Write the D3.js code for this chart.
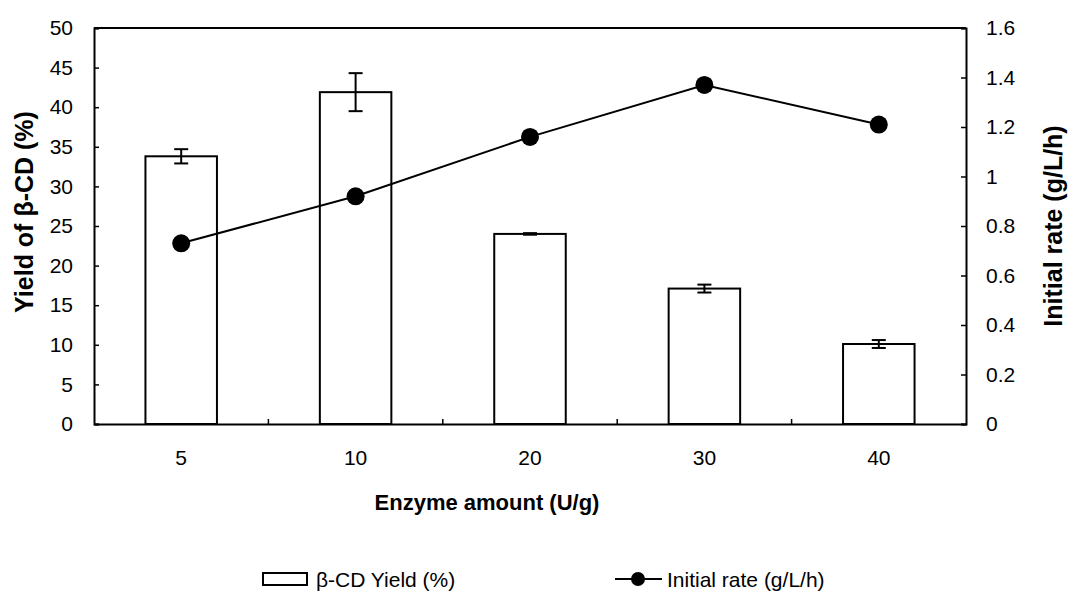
<!DOCTYPE html>
<html>
<head>
<meta charset="utf-8">
<script src="https://cdn.jsdelivr.net/npm/d3@7"></script>
<style>
  body { margin: 0; background: #fff; }
  svg text { font-family: "Liberation Sans", Arial, sans-serif; fill: #000; }
</style>
</head>
<body>
<svg id="chart" width="1069" height="596"></svg>
<script>
// enzyme amount categories (U/g)
var categories = ["5", "10", "20", "30", "40"];
// beta-CD yield (%), bars with error
var yieldValues = [33.8, 41.9, 24.0, 17.1, 10.1];
var yieldErrors = [0.9, 2.4, 0.1, 0.5, 0.5];
// initial rate (g/L/h), line
var rateValues = [0.73, 0.92, 1.16, 1.37, 1.21];

var leftTicks = [0, 5, 10, 15, 20, 25, 30, 35, 40, 45, 50];
var rightTicks = [0, 0.2, 0.4, 0.6, 0.8, 1, 1.2, 1.4, 1.6];

var svg = d3.select("#chart");
var m = {left: 94, right: 103, top: 28, bottom: 172};
var W = 1069 - m.left - m.right,
    H = 596 - m.top - m.bottom;
var fs = 21;

var x = d3.scaleBand().domain(categories).range([0, W]).paddingInner(0).paddingOuter(0);
var yL = d3.scaleLinear().domain([0, 50]).range([H, 0]);
var yR = d3.scaleLinear().domain([0, 1.6]).range([H, 0]);

var g = svg.append("g").attr("transform", "translate(" + m.left + "," + m.top + ")");

// bars
var barW = x.bandwidth() * 0.41;
g.selectAll("rect.bar").data(categories).enter().append("rect")
  .attr("class", "bar")
  .attr("x", function(d) { return x(d) + (x.bandwidth() - barW) / 2; })
  .attr("y", function(d, i) { return yL(yieldValues[i]); })
  .attr("width", barW)
  .attr("height", function(d, i) { return H - yL(yieldValues[i]); })
  .attr("fill", "#fff")
  .attr("stroke", "#000")
  .attr("stroke-width", 2);

// error bars
var eb = g.selectAll("g.err").data(categories).enter().append("g").attr("class", "err");
eb.append("line")
  .attr("x1", function(d) { return x(d) + x.bandwidth() / 2; })
  .attr("x2", function(d) { return x(d) + x.bandwidth() / 2; })
  .attr("y1", function(d, i) { return yL(yieldValues[i] + yieldErrors[i]); })
  .attr("y2", function(d, i) { return yL(yieldValues[i] - yieldErrors[i]); })
  .attr("stroke", "#000").attr("stroke-width", 2);
[1, -1].forEach(function(s) {
  eb.append("line")
    .attr("x1", function(d) { return x(d) + x.bandwidth() / 2 - 7; })
    .attr("x2", function(d) { return x(d) + x.bandwidth() / 2 + 7; })
    .attr("y1", function(d, i) { return yL(yieldValues[i] + s * yieldErrors[i]); })
    .attr("y2", function(d, i) { return yL(yieldValues[i] + s * yieldErrors[i]); })
    .attr("stroke", "#000").attr("stroke-width", 2);
});

// frame top
g.append("line").attr("x1", 0).attr("x2", W).attr("y1", 0).attr("y2", 0)
  .attr("stroke", "#000").attr("stroke-width", 2);

// axes
var axL = g.append("g").call(d3.axisLeft(yL).tickValues(leftTicks).tickSize(-5).tickPadding(21).tickFormat(d3.format("d")));
var axR = g.append("g").attr("transform", "translate(" + W + ",0)")
  .call(d3.axisRight(yR).tickValues(rightTicks).tickSize(-5).tickPadding(20).tickFormat(function(d) { return d3.format("")(d); }));
var axB = g.append("g").attr("transform", "translate(0," + H + ")")
  .call(d3.axisBottom(x).tickSize(0).tickPadding(26));
// category boundary ticks
g.selectAll("line.bt").data(categories.slice(1)).enter().append("line")
  .attr("class", "bt")
  .attr("x1", function(d) { return x(d); }).attr("x2", function(d) { return x(d); })
  .attr("y1", H).attr("y2", H - 5)
  .attr("stroke", "#000").attr("stroke-width", 1.5);

[axL, axR, axB].forEach(function(a) {
  a.select(".domain").attr("stroke", "#000").attr("stroke-width", 2);
  a.selectAll(".tick line").attr("stroke", "#000").attr("stroke-width", 1.5);
  a.selectAll(".tick text").attr("font-size", fs).attr("font-family", "Liberation Sans, Arial, sans-serif").attr("fill", "#000");
});
axR.selectAll(".tick text").attr("text-anchor", "start");

// line series
var line = d3.line()
  .x(function(d, i) { return x(categories[i]) + x.bandwidth() / 2; })
  .y(function(d) { return yR(d); });
g.append("path").datum(rateValues)
  .attr("d", line).attr("fill", "none").attr("stroke", "#000").attr("stroke-width", 2);
g.selectAll("circle.pt").data(rateValues).enter().append("circle")
  .attr("class", "pt")
  .attr("cx", function(d, i) { return x(categories[i]) + x.bandwidth() / 2; })
  .attr("cy", function(d) { return yR(d); })
  .attr("r", 9).attr("fill", "#000");

// axis titles
svg.append("text")
  .attr("transform", "translate(24,212) rotate(-90)")
  .attr("text-anchor", "middle").attr("dy", "0.35em")
  .attr("font-size", 25).attr("font-weight", "bold")
  .text("Yield of β-CD (%)");
svg.append("text")
  .attr("transform", "translate(1053,226) rotate(-90)")
  .attr("text-anchor", "middle").attr("dy", "0.35em")
  .attr("font-size", 25).attr("font-weight", "bold")
  .text("Initial rate (g/L/h)");
svg.append("text")
  .attr("x", 487).attr("y", 510)
  .attr("text-anchor", "middle")
  .attr("font-size", 22).attr("font-weight", "bold")
  .text("Enzyme amount (U/g)");

// legend
var lg = svg.append("g");
lg.append("rect").attr("x", 263).attr("y", 573).attr("width", 44).attr("height", 12)
  .attr("fill", "#fff").attr("stroke", "#000").attr("stroke-width", 2);
lg.append("text").attr("x", 316).attr("y", 587).attr("font-size", fs).text("β-CD Yield (%)");
lg.append("line").attr("x1", 615).attr("x2", 662).attr("y1", 579).attr("y2", 579)
  .attr("stroke", "#000").attr("stroke-width", 2);
lg.append("circle").attr("cx", 638).attr("cy", 579).attr("r", 7).attr("fill", "#000");
lg.append("text").attr("x", 667).attr("y", 587).attr("font-size", fs).text("Initial rate (g/L/h)");
</script>
</body>
</html>
